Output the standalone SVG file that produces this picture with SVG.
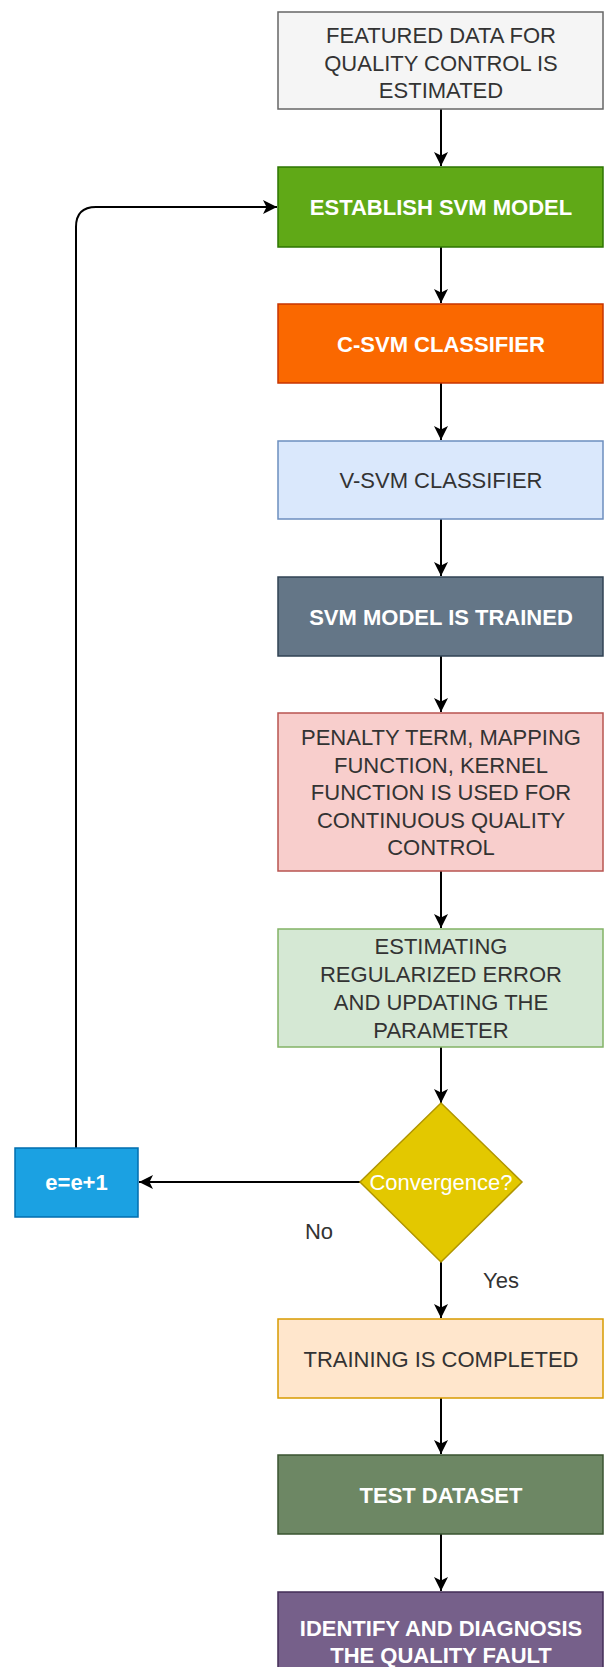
<svg xmlns="http://www.w3.org/2000/svg" width="605" height="1667" viewBox="0 0 605 1667">
<defs>
<marker id="arr" markerUnits="userSpaceOnUse" markerWidth="16" markerHeight="16" viewBox="0 0 16 16" refX="15" refY="8" orient="auto">
<path d="M1,1 L15,8 L1,15 L4.5,8 Z" fill="#000"/>
</marker>
<style>
text{font-family:"Liberation Sans",Arial,sans-serif;font-size:22px;text-anchor:middle}
.b{font-weight:bold;fill:#fff}
.d{fill:#333}
.n{stroke-width:1.5}
.c{fill:none;stroke:#000;stroke-width:2;marker-end:url(#arr)}
</style>
</defs>
<rect width="605" height="1667" fill="#fff"/>
<g id="connectors">
<path class="c" d="M441,109 V166"/>
<path class="c" d="M441,247 V303"/>
<path class="c" d="M441,383 V440"/>
<path class="c" d="M441,519 V576"/>
<path class="c" d="M441,656 V712"/>
<path class="c" d="M441,871 V928"/>
<path class="c" d="M441,1047 V1103"/>
<path class="c" d="M441,1262 V1318"/>
<path class="c" d="M441,1398 V1454"/>
<path class="c" d="M441,1534 V1591"/>
<path class="c" d="M360,1182 H139"/>
<path class="c" d="M76,1148 V227 Q76,207 96,207 H277"/>
</g>
<g id="n1"><rect class="n" x="278" y="12" width="325" height="97" fill="#f5f5f5" stroke="#666"/>
<text class="d" x="441" y="43">FEATURED DATA FOR</text><text class="d" x="441" y="70.5">QUALITY CONTROL IS</text><text class="d" x="441" y="98">ESTIMATED</text></g>
<g id="n2"><rect class="n" x="278" y="167" width="325" height="80" fill="#60a917" stroke="#2d7600"/>
<text class="b" x="441" y="215">ESTABLISH SVM MODEL</text></g>
<g id="n3"><rect class="n" x="278" y="304" width="325" height="79" fill="#fa6800" stroke="#c73500"/>
<text class="b" x="441" y="351.5">C-SVM CLASSIFIER</text></g>
<g id="n4"><rect class="n" x="278" y="441" width="325" height="78" fill="#dae8fc" stroke="#6c8ebf"/>
<text class="d" x="441" y="488">V-SVM CLASSIFIER</text></g>
<g id="n5"><rect class="n" x="278" y="577" width="325" height="79" fill="#647687" stroke="#314354"/>
<text class="b" x="441" y="624.5">SVM MODEL IS TRAINED</text></g>
<g id="n6"><rect class="n" x="278" y="713" width="325" height="158" fill="#f8cecc" stroke="#b85450"/>
<text class="d" x="441" y="745">PENALTY TERM, MAPPING</text><text class="d" x="441" y="772.5">FUNCTION, KERNEL</text><text class="d" x="441" y="800">FUNCTION IS USED FOR</text><text class="d" x="441" y="827.5">CONTINUOUS QUALITY</text><text class="d" x="441" y="855">CONTROL</text></g>
<g id="n7"><rect class="n" x="278" y="929" width="325" height="118" fill="#d5e8d4" stroke="#82b366"/>
<text class="d" x="441" y="954">ESTIMATING</text><text class="d" x="441" y="982">REGULARIZED ERROR</text><text class="d" x="441" y="1010">AND UPDATING THE</text><text class="d" x="441" y="1038">PARAMETER</text></g>
<g id="n8"><path class="n" d="M441,1103 L522,1182 L441,1262 L360,1182 Z" fill="#e3c800" stroke="#b09500"/>
<text x="441" y="1190" fill="#fff">Convergence?</text></g>
<g id="n9"><rect class="n" x="15" y="1148" width="123" height="69" fill="#1ba1e2" stroke="#006eaf"/>
<text class="b" x="76.5" y="1190">e=e+1</text></g>
<g id="n10"><rect class="n" x="278" y="1319" width="325" height="79" fill="#ffe6cc" stroke="#d79b00"/>
<text class="d" x="441" y="1366.5">TRAINING IS COMPLETED</text></g>
<g id="n11"><rect class="n" x="278" y="1455" width="325" height="79" fill="#6d8764" stroke="#3a5431"/>
<text class="b" x="441" y="1502.5">TEST DATASET</text></g>
<g id="n12"><rect class="n" x="278" y="1592" width="325" height="80" fill="#76608a" stroke="#432d57"/>
<text class="b" x="441" y="1636">IDENTIFY AND DIAGNOSIS</text><text class="b" x="441" y="1663">THE QUALITY FAULT</text></g>
<g id="labels"><text class="d" x="319" y="1239">No</text><text class="d" x="501" y="1288">Yes</text></g>
</svg>
